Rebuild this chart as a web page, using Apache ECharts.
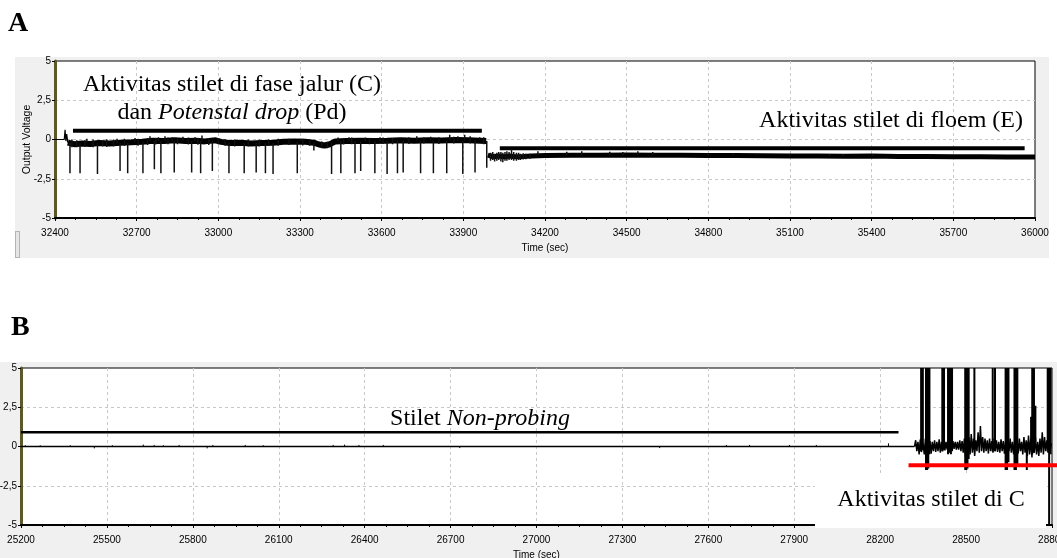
<!DOCTYPE html>
<html>
<head>
<meta charset="utf-8">
<script src="https://cdn.jsdelivr.net/npm/echarts@6/dist/echarts.min.js"></script>
<style>
  html, body { margin: 0; padding: 0; background: #fff; }
  #wrap { position: relative; width: 1057px; height: 558px; overflow: hidden; }
  .panel { position: absolute; background: #f0f0f0; }
  #chart { position: absolute; left: 0; top: 0; width: 1057px; height: 558px; }
</style>
</head>
<body>
<div id="wrap">
  <div class="panel" style="left:15px;top:57px;width:1034px;height:201px;"></div>
  <div class="panel" style="left:0px;top:362px;width:1057px;height:196px;"></div>
  <div style="position:absolute;left:15px;top:231px;width:3px;height:25px;border:1px solid #b4b4b4;background:#e6e6e6;"></div>
  <div id="chart"></div>
</div>
<script>
// ---------- DATA ----------
const aXRange = [32400, 36000];
const bXRange = [25200, 28800];
const xStep = 300;
const yTicks = [-5, -2.5, 0, 2.5, 5];

// Panel A: start of trace (thin)
const aStart = [[32400,0],[32434,0],[32437,0.62],[32440,-0.1],[32443,0.35],[32447,-0.2]];

// Panel A: noisy band, phase C (centre of band)
const aBandC = [[32447,-0.2],[32470,-0.3],[32500,-0.25],[32530,-0.28],[32560,-0.22],[32600,-0.26],
  [32640,-0.2],[32680,-0.18],[32720,-0.15],[32760,-0.08],[32800,-0.1],[32840,-0.05],[32880,-0.1],
  [32920,-0.08],[32950,-0.12],[32990,-0.05],[33010,-0.15],[33040,-0.22],[33080,-0.2],[33120,-0.25],
  [33160,-0.22],[33200,-0.2],[33240,-0.15],[33280,-0.12],[33320,-0.15],[33350,-0.2],[33370,-0.32],
  [33390,-0.38],[33410,-0.3],[33430,-0.12],[33470,-0.1],[33520,-0.08],[33570,-0.1],[33620,-0.08],
  [33670,-0.05],[33720,-0.08],[33770,-0.05],[33820,-0.06],[33870,-0.03],[33920,-0.05],[33960,-0.08],[33984,-0.1]];

// Panel A: band, phase E
const aBandE = [[33990,-1.0],[34010,-1.1],[34030,-1.05],[34050,-1.1],[34070,-1.05],[34090,-1.1],
  [34120,-1.08],[34150,-1.05],[34200,-1.02],[34300,-1.0],[34400,-1.0],[34500,-0.98],[34600,-1.0],
  [34700,-1.0],[34800,-1.02],[34900,-1.02],[35000,-1.03],[35100,-1.05],[35200,-1.05],[35300,-1.06],
  [35400,-1.05],[35500,-1.08],[35600,-1.08],[35700,-1.1],[35800,-1.1],[35900,-1.12],[36000,-1.12]];

// Panel A: spikes / jitter strokes [time, from, to]
const aSpikes = [
  [32455,-0.2,-2.15],[32492,-0.2,-2.15],[32556,-0.2,-2.2],[32639,-0.2,-2.0],[32667,-0.2,-2.15],
  [32723,-0.15,-2.15],[32765,-0.1,-1.9],[32789,-0.1,-2.15],[32838,-0.1,-2.1],[32902,-0.1,-2.1],
  [32935,-0.1,-2.15],[32978,-0.1,-2.0],[33039,-0.2,-2.15],[33095,-0.2,-2.15],[33139,-0.2,-2.1],
  [33173,-0.2,-2.15],[33201,-0.2,-2.2],[33290,-0.15,-2.15],[33351,-0.2,-0.7],[33416,-0.2,-2.2],
  [33450,-0.1,-2.15],[33502,-0.1,-2.15],[33523,-0.1,-2.0],[33575,-0.1,-2.15],[33620,-0.1,-2.2],
  [33658,-0.05,-2.15],[33679,-0.05,-2.1],[33743,-0.05,-2.15],[33790,-0.05,-2.15],[33839,-0.05,-2.15],
  [33898,-0.05,-2.2],[33943,-0.05,-2.1],
  // upticks on top of band C
  [32517,-0.2,0.05],[32628,-0.2,0.05],[32694,-0.15,0.1],[32749,-0.1,0.2],[32780,-0.1,0.15],
  [32804,-0.1,0.2],[32830,-0.1,0.15],[32870,-0.1,0.18],[32914,-0.1,0.15],[32940,-0.1,0.25],
  [33300,-0.1,0.05],[33440,-0.1,0.12],[33480,-0.1,0.15],[33540,-0.1,0.12],[33594,-0.1,0.15],
  [33729,-0.05,0.2],[33780,-0.05,0.18],[33850,-0.05,0.3],[33880,-0.05,0.2],[33905,-0.05,0.3],[33960,-0.05,0.15],
  // ragged edges of band C
  [32462,0.0,-0.5],[32480,-0.05,-0.5],[32510,-0.05,-0.48],[32540,0.0,-0.5],[32575,-0.05,-0.45],
  [32590,0.02,-0.48],[32615,0.0,-0.45],[32655,0.05,-0.42],[32705,0.05,-0.4],[32740,0.1,-0.35],
  [32770,0.1,-0.32],[32815,0.12,-0.3],[32850,0.1,-0.3],[32890,0.12,-0.32],[32925,0.1,-0.33],
  [32965,0.08,-0.35],[33000,0.1,-0.3],[33025,0.02,-0.4],[33060,0.0,-0.45],[33110,0.0,-0.45],
  [33150,0.0,-0.45],[33185,0.02,-0.42],[33220,0.05,-0.4],[33260,0.05,-0.35],[33310,0.05,-0.38],
  [33335,0.02,-0.4],[33380,-0.12,-0.55],[33400,-0.15,-0.55],[33460,0.1,-0.32],[33490,0.12,-0.3],
  [33555,0.1,-0.3],[33605,0.12,-0.28],[33640,0.1,-0.3],[33700,0.15,-0.28],[33755,0.15,-0.25],
  [33810,0.15,-0.28],[33865,0.18,-0.25],[33925,0.2,-0.25],[33975,0.15,-0.3],
  // drop to phase E
  [33986,-0.1,-1.8],
  // jitter at start of phase E
  [34000,-0.85,-1.35],[34008,-0.8,-1.3],[34015,-0.9,-1.4],[34023,-0.85,-1.35],[34030,-0.8,-1.3],
  [34038,-0.8,-1.4],[34045,-0.85,-1.45],[34053,-0.8,-1.35],[34060,-0.75,-1.35],[34068,-0.8,-1.3],
  [34077,-0.62,-1.3],[34085,-0.8,-1.35],[34095,-0.85,-1.35],[34103,-0.85,-1.3],[34110,-0.9,-1.3],
  [34120,-0.88,-1.28],[34130,-0.9,-1.25],[34145,-0.9,-1.22],
  // upticks in phase E
  [34174,-1.0,-0.75],[34280,-1.0,-0.78],[34335,-1.0,-0.75],[34438,-1.0,-0.78],[34486,-1.0,-0.8],
  [34541,-1.0,-0.75],[34596,-1.0,-0.8],[34800,-1.0,-0.88],[34890,-1.0,-0.88],[34978,-1.0,-0.9],
  [35100,-1.05,-0.9],[35245,-1.05,-0.92],[35295,-1.05,-0.92],[35404,-1.05,-0.95],[35613,-1.05,-0.95]];

// Panel A annotation bars [from, to, level]
const aBars = [[32466, 33968, 0.55], [34034, 35962, -0.55]];

// Panel B: baseline trace
const bBase = [[25200,0],[28320,0]];
const bTicks = [[25215,0,0.08],[25267,0,0.08],[25372,0,0.08],[25456,0,-0.12],[25519,0,0.08],
  [25627,0,0.12],[25665,0,0.1],[25697,0,0.08],[25752,0,0.1],[25850,0,-0.12],[25870,0,0.1],
  [25983,0,0.1],[26046,0,0.08],[26290,0,0.1],[26330,0,0.12],[26380,0,0.1],[26465,0,0.1],
  [26732,0,-0.1],[27430,0,-0.1],[27663,0,0.1],[27744,0,0.1],[27883,0,0.1],[27977,0,0.1],[28229,0,0.2]];

// Panel B: noisy band of phase C
const bBand = [[28320,0.0],[28324,0.4],[28328,-0.3],[28332,0.3],[28336,-0.5],[28340,0.45],[28344,-0.35],
  [28350,0.2],[28354,-0.5],[28358,0.5],[28362,-0.4],[28366,0.6],[28370,-0.3],[28374,0.35],[28378,-0.45],
  [28382,0.3],[28386,-0.3],[28390,0.4],[28394,-0.35],[28398,0.3],[28402,-0.3],[28406,0.45],[28410,-0.4],
  [28414,0.3],[28418,-0.3],[28422,0.35],[28426,-0.25],[28430,0.3],[28434,-0.2],[28438,0.4],[28442,-0.2],
  [28446,0.3],[28450,-0.15],[28454,0.35],[28458,-0.15],[28462,0.3],[28466,-0.2],[28470,0.3],[28474,-0.2],
  [28478,0.4],[28482,-0.3],[28486,0.35],[28490,-0.4],[28494,0.5],[28498,-0.6],[28502,0.7],[28506,-0.8],
  [28510,0.6],[28514,-0.5],[28518,0.8],[28522,-0.4],[28526,0.5],[28530,-0.6],[28534,0.4],[28538,-0.3],
  [28542,0.9],[28546,-0.4],[28550,1.3],[28554,-0.3],[28558,0.6],[28562,-0.4],[28566,0.5],[28570,-0.3],
  [28574,0.4],[28578,-0.45],[28582,0.5],[28586,-0.3],[28590,0.35],[28594,-0.4],[28598,0.5],[28602,-0.3],
  [28606,0.4],[28610,-0.35],[28614,0.3],[28618,-0.4],[28622,0.45],[28626,-0.3],[28630,0.35],[28634,-0.45],
  [28638,0.3],[28642,-0.5],[28646,0.4],[28650,-0.3],[28654,0.5],[28658,-0.4],[28662,0.3],[28666,-0.5],
  [28670,0.35],[28674,-0.3],[28678,0.4],[28682,-0.45],[28686,0.5],[28690,-0.3],[28694,0.3],[28698,-0.5],
  [28702,0.6],[28706,-0.4],[28710,0.4],[28714,-0.6],[28718,0.7],[28722,-0.5],[28726,0.5],[28730,-0.7],
  [28734,0.8],[28738,-0.4],[28742,0.6],[28746,-0.5],[28750,0.3],[28754,-0.6],[28758,0.5],[28762,-0.4],
  [28766,0.9],[28770,-0.5],[28774,0.6],[28778,-0.3],[28782,0.4],[28786,-0.4],[28790,0.3],[28794,-0.2],[28798,0.2]];

// Panel B: tall spikes [time, from, to]
const bSpikes = [[28343,-0.3,5],[28349,-0.2,5],
  [28360,-1.5,5],[28364,-1.5,5],[28368,-1.4,5],[28372,-0.5,5],
  [28417,-0.3,5],[28423,-0.2,5],
  [28437,-0.5,5],[28442,-0.4,5],[28447,-0.5,5],[28451,-0.3,5],
  [28497,-1.5,5],[28501,-1.5,5],[28505,-1.4,5],[28509,-0.8,5],
  [28529,0,5],[28593,-0.3,5],[28601,-0.3,5],
  [28638,-1.5,5],[28643,-1.5,5],[28648,-1.0,5],
  [28669,-1.5,5],[28674,-1.5,5],[28679,-1.2,5],
  [28712,-1.5,0.3],[28727,0,1.9],
  [28731,-0.5,5],[28737,-0.4,5],[28742,0.3,2.6],
  [28785,-0.3,5],[28790,-5,5],[28795,-0.5,5]];

// Panel B annotation bars [from, to, level]
const bBlackBar = [[25200, 28264, 0.9]];
const bRedBar = [[28299, 28820, -1.2]];

// ---------- helpers ----------
function strokes(table) {
  const out = [];
  table.forEach(function (s) { out.push([s[0], s[1]], [s[0], s[2]], [s[0], null]); });
  return out;
}

const tickFont = '"Liberation Sans Narrow", "Liberation Sans", Arial, sans-serif';
const nameFont = '"Liberation Sans", Arial, sans-serif';
const serif = '"Liberation Serif", "Times New Roman", serif';
const gridSplit = { show: true, showMinLine: false, showMaxLine: false,
  lineStyle: { color: '#c8c8c8', type: [3, 3], width: 1 } };

function xAxisCfg(idx, range) {
  return {
    type: 'value', gridIndex: idx, min: range[0], max: range[1], interval: xStep,
    name: 'Time (sec)', nameLocation: 'middle', nameGap: 25, nameMoveOverlap: false,
    nameTextStyle: { fontFamily: tickFont, fontSize: 10, color: '#000' },
    axisLine: { show: true, onZero: false, lineStyle: { color: '#000', width: 2 } },
    axisTick: { show: true, length: 3, lineStyle: { color: '#000', width: 1 } },
    minorTick: { show: true, splitNumber: 4, length: 2, lineStyle: { color: '#000', width: 1 } },
    axisLabel: { fontFamily: tickFont, fontSize: 10, color: '#000', margin: 10, showMinLabel: true, showMaxLabel: true,
      hideOverlap: false, formatter: function (v) { return String(v); } },
    splitLine: gridSplit
  };
}
function yAxisCfg(idx, name) {
  return {
    type: 'value', gridIndex: idx, min: yTicks[0], max: yTicks[yTicks.length - 1], interval: 2.5,
    name: name, nameLocation: 'middle', nameGap: 22, nameMoveOverlap: false,
    nameTextStyle: { fontFamily: nameFont, fontSize: 10.5, color: '#000' },
    axisLine: { show: true, onZero: false, lineStyle: { color: '#5c5829', width: 3 } },
    axisTick: { show: true, length: 3, lineStyle: { color: '#000', width: 1 } },
    axisLabel: { fontFamily: tickFont, fontSize: 10, color: '#000', margin: 4, showMinLabel: true, showMaxLabel: true,
      formatter: function (v) { return String(v).replace('.', ','); } },
    splitLine: gridSplit
  };
}
function lineSeries(xi, data, width, color, extra) {
  return Object.assign({
    type: 'line', xAxisIndex: xi, yAxisIndex: xi, data: data, showSymbol: false, symbol: 'none',
    connectNulls: false, animation: false, silent: true,
    lineStyle: { color: color || '#000', width: width }
  }, extra || {});
}
// horizontal annotation bars drawn in data coordinates (custom series, not clipped)
function barSeries(xi, table, width, color, z) {
  return {
    type: 'custom', xAxisIndex: xi, yAxisIndex: xi, data: table, clip: false, silent: true, z: z || 3,
    encode: { x: [0, 1], y: 2 },
    renderItem: function (params, api) {
      const p1 = api.coord([api.value(0), api.value(2)]);
      const p2 = api.coord([api.value(1), api.value(2)]);
      return { type: 'line', shape: { x1: p1[0], y1: p1[1], x2: p2[0], y2: p2[1] },
        style: { stroke: color, lineWidth: width } };
    }
  };
}

const chart = echarts.init(document.getElementById('chart'), null, { renderer: 'canvas' });
chart.setOption({
  backgroundColor: 'transparent',
  animation: false,
  grid: [
    { left: 55, top: 61, width: 980, height: 157, show: true, backgroundColor: '#fff', borderColor: '#000', borderWidth: 1,
      containLabel: false, outerBoundsMode: 'none' },
    { left: 21, top: 368, width: 1031, height: 157, show: true, backgroundColor: '#fff', borderColor: '#000', borderWidth: 1,
      containLabel: false, outerBoundsMode: 'none' }
  ],
  xAxis: [xAxisCfg(0, aXRange), xAxisCfg(1, bXRange)],
  yAxis: [yAxisCfg(0, 'Output Voltage'), yAxisCfg(1, '')],
  series: [
    lineSeries(0, aStart, 1.2, '#000'),
    lineSeries(0, aBandC, 6, '#000'),
    lineSeries(0, aBandE, 5, '#000'),
    lineSeries(0, strokes(aSpikes), 1.5, '#111'),
    barSeries(0, aBars, 4, '#000'),
    lineSeries(1, bBase, 1.5, '#000'),
    lineSeries(1, strokes(bTicks), 1, '#000'),
    lineSeries(1, bBand, 1.5, '#000'),
    lineSeries(1, strokes(bSpikes), 2, '#000'),
    barSeries(1, bBlackBar, 2.5, '#000'),
    barSeries(1, bRedBar, 4, '#ff0000', 5)
  ],
  graphic: [
    { type: 'rect', z: 100, shape: { x: 815, y: 476, width: 231, height: 52 }, style: { fill: '#fff' } },
    { type: 'text', z: 101, x: 8, y: 24, style: { text: 'A', font: 'bold 28px ' + serif, fill: '#000', align: 'left', verticalAlign: 'middle' } },
    { type: 'text', z: 101, x: 11, y: 328, style: { text: 'B', font: 'bold 28px ' + serif, fill: '#000', align: 'left', verticalAlign: 'middle' } },
    { type: 'text', z: 101, x: 232, y: 85, style: { text: 'Aktivitas stilet di fase jalur (C)', font: '24px ' + serif, fill: '#000', align: 'center', verticalAlign: 'middle' } },
    { type: 'text', z: 101, x: 232, y: 113, style: {
        text: '{n|dan }{i|Potenstal drop}{n| (Pd)}', align: 'center', verticalAlign: 'middle', fill: '#000',
        rich: { n: { fontFamily: serif, fontSize: 24, fill: '#000' }, i: { fontFamily: serif, fontSize: 24, fontStyle: 'italic', fill: '#000' } } } },
    { type: 'text', z: 101, x: 1023, y: 121, style: { text: 'Aktivitas stilet di floem (E)', font: '24px ' + serif, fill: '#000', align: 'right', verticalAlign: 'middle' } },
    { type: 'text', z: 101, x: 480, y: 419, style: {
        text: '{n|Stilet }{i|Non-probing}', align: 'center', verticalAlign: 'middle', fill: '#000',
        rich: { n: { fontFamily: serif, fontSize: 24, fill: '#000' }, i: { fontFamily: serif, fontSize: 24, fontStyle: 'italic', fill: '#000' } } } },
    { type: 'text', z: 101, x: 931, y: 500, style: { text: 'Aktivitas stilet di C', font: '24px ' + serif, fill: '#000', align: 'center', verticalAlign: 'middle' } }
  ]
});
</script>
</body>
</html>
